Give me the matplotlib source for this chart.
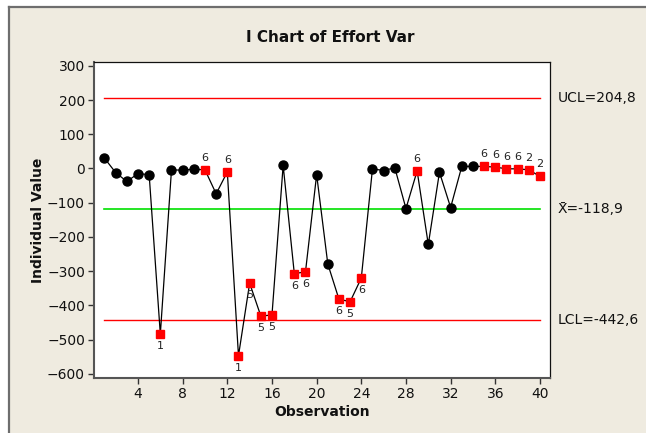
import matplotlib
matplotlib.use("Agg")
import matplotlib.pyplot as plt
from matplotlib.patches import Rectangle
from matplotlib.lines import Line2D

observation = list(range(1, 41))
values = [30, -12, -38, -15, -18, -484, -4, -5, -2, -4,
          -74, -10, -547, -335, -431, -428, 9, -307, -302, -18,
          -279, -382, -389, -320, -1, -6, 2, -117, -7, -222,
          -11, -114, 6, 6, 6, 4, -1, -1, -4, -23]
# failed tests: observation -> test number
failed = {6: "1", 10: "6", 12: "6", 13: "1", 14: "5", 15: "5", 16: "5",
          18: "6", 19: "6", 22: "6", 23: "5", 24: "6", 29: "6",
          35: "6", 36: "6", 37: "6", 38: "6", 39: "2", 40: "2"}
label_above = {10, 12, 29, 35, 36, 37, 38, 39, 40}
ucl, center, lcl = 204.8, -118.9, -442.6
ucl_text, center_text, lcl_text = "UCL=204,8", "X\u0304=-118,9", "LCL=-442,6"
xticks = [4, 8, 12, 16, 20, 24, 28, 32, 36, 40]
yticks = [300, 200, 100, 0, -100, -200, -300, -400, -500, -600]

W, H = 646, 433
fig = plt.figure(figsize=(W / 100, H / 100), dpi=100)
fig.patch.set_facecolor("white")
bg = "#efebe0"
fig.add_artist(Rectangle((9 / W, 0), 1 - 9 / W, 1 - 7 / H, transform=fig.transFigure,
                         facecolor=bg, edgecolor="none", zorder=-10))
fig.add_artist(Line2D([9 / W, 9 / W], [0, 1 - 7 / H], transform=fig.transFigure,
                      color="#6e6e6e", lw=1.6, zorder=-9))
fig.add_artist(Line2D([9 / W, 1], [1 - 7 / H, 1 - 7 / H], transform=fig.transFigure,
                      color="#6e6e6e", lw=1.6, zorder=-9))

ax = fig.add_axes([94 / W, 1 - 378 / H, (550 - 94) / W, (378 - 62) / H])
ax.set_facecolor("white")
ax.set_zorder(1)

ax.plot([1, 40], [ucl, ucl], color="#ff0000", lw=1.0, zorder=2)
ax.plot([1, 40], [lcl, lcl], color="#ff0000", lw=1.0, zorder=2)
ax.plot([1, 40], [center, center], color="#00e000", lw=1.2, zorder=2)

ax.plot(observation, values, color="black", lw=0.9, zorder=3)
ok_x = [o for o in observation if o not in failed]
ok_y = [values[o - 1] for o in ok_x]
bad_x = [o for o in observation if o in failed]
bad_y = [values[o - 1] for o in bad_x]
ax.plot(ok_x, ok_y, "o", color="black", ms=6.5, zorder=4)
ax.plot(bad_x, bad_y, "s", color="#ff0000", ms=6.3, zorder=4)

for o in bad_x:
    above = o in label_above
    ax.annotate(failed[o], (o, values[o - 1]), xytext=(0, 5 if above else -5),
                textcoords="offset points", ha="center",
                va="bottom" if above else "top", fontsize=8, color="#222222", zorder=5)

ax.set_xlim(0.06, 40.9)
ax.set_ylim(-612, 311)
ax.set_xticks(xticks)
ax.set_yticks(yticks)
ax.tick_params(direction="out", length=4.5, width=1, color="#333333",
               labelsize=10, labelcolor="#111111", pad=2)
for s in ax.spines.values():
    s.set_color("#111111")
    s.set_linewidth(0.9)
for s in ("left", "bottom"):
    ax.spines[s].set_color("#555555")
    ax.spines[s].set_linewidth(1.5)

for yv, txt in ((ucl, ucl_text), (center, center_text), (lcl, lcl_text)):
    ax.text(1.016, yv, txt, transform=ax.get_yaxis_transform(), ha="left", va="center",
            fontsize=10, color="#111111", clip_on=False)

fig.text(330 / W, 1 - 38 / H, "I Chart of Effort Var", ha="center", va="center",
         fontsize=11, fontweight="bold", color="#111111")
fig.text(322 / W, 1 - 412 / H, "Observation", ha="center", va="center",
         fontsize=10, fontweight="bold", color="#111111")
fig.text(38 / W, 1 - 220 / H, "Individual Value", ha="center", va="center",
         rotation=90, fontsize=10, fontweight="bold", color="#111111")

fig.savefig("out.png", dpi=100, facecolor=fig.get_facecolor())
